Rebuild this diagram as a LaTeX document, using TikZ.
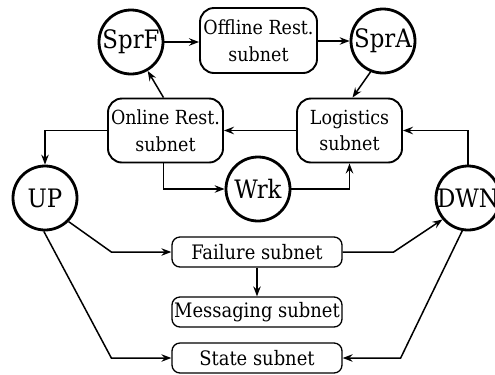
\documentclass[tikz,border=0pt]{standalone}
\usepackage{fontspec}
\setmainfont{DejaVu Serif Condensed}
\usetikzlibrary{arrows.meta,calc}

\tikzset{
  place/.style={circle, draw, line width=2.8bp, minimum size=64bp, inner sep=0pt,
    font=\fontsize{25.5}{30}\selectfont},
  bigbox/.style={rectangle, rounded corners=14bp, draw, line width=1.9bp,
    inner sep=0pt, align=center, font=\fontsize{19.5}{27}\selectfont},
  flatbox/.style={rectangle, rounded corners=8bp, draw, line width=1.3bp,
    minimum width=170bp, minimum height=30bp, inner sep=0pt,
    font=\fontsize{20}{24}\selectfont},
  link/.style={line width=1.5bp, -{Stealth[length=10bp, width=7.5bp, inset=3.5bp]}},
}
\newcommand{\placetext}[1]{\makebox[0pt]{#1}}

\begin{document}
\begin{tikzpicture}[x=1bp, y=-1bp]
  \useasboundingbox (0,0) rectangle (495,374);
  \clip (0,0) rectangle (495,374);

  % places
  \node[place] (SprF) at (131,42) {\placetext{SprF}};
  \node[place] (SprA) at (383,41) {\placetext{SprA}};
  \node[place] (Wrk)  at (258,189) {\placetext{Wrk}};
  \node[place] (UP)   at (45,198) {\placetext{UP}};
  \node[place] (DWN)  at (468,198) {\placetext{DWN}};

  % subnets
  \node[bigbox, minimum width=117bp, minimum height=65bp] (Offline) at (258.5,40.5)
    {Offline Rest.\\subnet};
  \node[bigbox, minimum width=115bp, minimum height=64bp] (Online) at (165.5,130.5)
    {Online Rest.\\subnet};
  \node[bigbox, minimum width=105bp, minimum height=64bp] (Logistics) at (349.5,130.5)
    {Logistics\\subnet};
  \node[flatbox] (Failure)   at (257,252) {Failure subnet};
  \node[flatbox] (Messaging) at (257,312) {Messaging subnet};
  \node[flatbox] (State)     at (257,358) {State subnet};

  % restoration loop
  \draw[link] (SprF.east) -- (SprF.east -| Offline.west);
  \draw[link] (Offline.east |- SprA.west) -- (SprA.west);
  \draw[link] (SprA.-112) -- ([xshift=3bp]Logistics.north);
  \draw[link] (Logistics.west) -- (Online.east);
  \draw[link] ([xshift=-2bp]Online.north) -- (SprF.-60);
  \draw[link] (Online.west) -| (UP.north);
  \draw[link] ([xshift=-2bp]Online.south) |- (Wrk.west);
  \draw[link] (Wrk.east) -| (Logistics.south);
  \draw[link] (DWN.north) |- (Logistics.east);

  % failure and state
  \draw[link] (UP.-45) -- ($(Failure.west)+(-60,0)$) -- (Failure.west);
  \draw[link] (Failure.east) -- ($(Failure.east)+(51,0)$) -- (DWN.-140);
  \draw[link] (Failure.south) -- (Messaging.north);
  \draw[link] (UP.-92) -- ($(State.west)+(-60,0)$) -- (State.west);
  \draw[link] (DWN.-100) -- ($(State.east)+(58,0)$) -- (State.east);
\end{tikzpicture}
\end{document}
